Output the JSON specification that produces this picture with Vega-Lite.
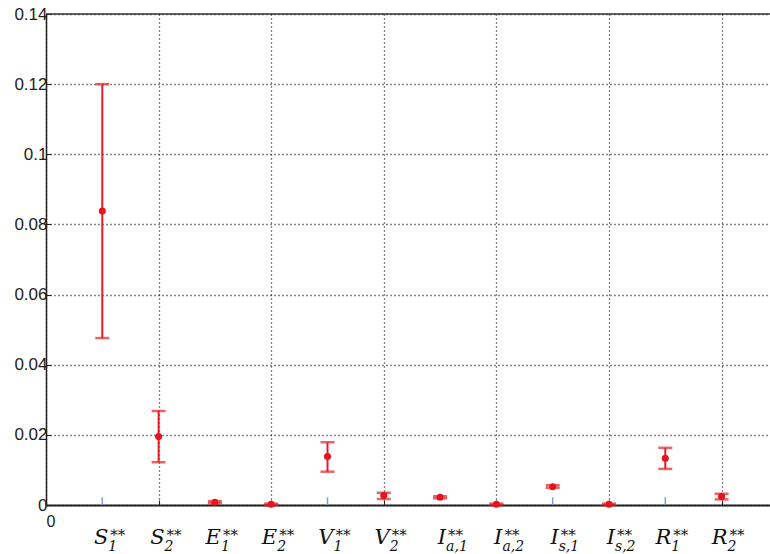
{
  "$schema": "https://vega.github.io/schema/vega-lite/v6.json",
  "autosize": "none",
  "width": 724,
  "height": 491,
  "padding": {"left": 46, "top": 14, "right": 0, "bottom": 49},
  "background": "white",
  "config": {
    "view": {"stroke": null},
    "axis": {"labelFont": "Liberation Sans", "labelFontSize": 16, "labelColor": "#222", "titleFont": "Liberation Sans"}
  },
  "datasets": {
    "bars": [
      {"pos": 1, "mid": 0.0838, "lo": 0.0476, "hi": 0.1200, "letter": "S", "sub": "1", "sup": "**"},
      {"pos": 2, "mid": 0.0195, "lo": 0.0122, "hi": 0.0268, "letter": "S", "sub": "2", "sup": "**"},
      {"pos": 3, "mid": 0.0008, "lo": 0.0005, "hi": 0.0011, "letter": "E", "sub": "1", "sup": "**"},
      {"pos": 4, "mid": 0.0002, "lo": 0.0000, "hi": 0.0004, "letter": "E", "sub": "2", "sup": "**"},
      {"pos": 5, "mid": 0.0138, "lo": 0.0095, "hi": 0.0179, "letter": "V", "sub": "1", "sup": "**"},
      {"pos": 6, "mid": 0.0027, "lo": 0.0017, "hi": 0.0035, "letter": "V", "sub": "2", "sup": "**"},
      {"pos": 7, "mid": 0.0022, "lo": 0.0019, "hi": 0.0025, "letter": "I", "sub": "a,1", "sup": "**"},
      {"pos": 8, "mid": 0.0002, "lo": 0.0000, "hi": 0.0004, "letter": "I", "sub": "a,2", "sup": "**"},
      {"pos": 9, "mid": 0.0052, "lo": 0.0049, "hi": 0.0056, "letter": "I", "sub": "s,1", "sup": "**"},
      {"pos": 10, "mid": 0.0002, "lo": 0.0000, "hi": 0.0004, "letter": "I", "sub": "s,2", "sup": "**"},
      {"pos": 11, "mid": 0.0133, "lo": 0.0103, "hi": 0.0163, "letter": "R", "sub": "1", "sup": "**"},
      {"pos": 12, "mid": 0.0024, "lo": 0.0016, "hi": 0.0032, "letter": "R", "sub": "2", "sup": "**"}
    ],
    "blueticks": [{"pos": 1}, {"pos": 5}, {"pos": 9}, {"pos": 11}],
    "one": [{}]
  },
  "data": {"name": "bars"},
  "layer": [
    {
      "mark": {"type": "rule", "color": "#e21f26", "strokeWidth": 2},
      "encoding": {
        "x": {
          "field": "pos", "type": "quantitative",
          "scale": {"domain": [0, 12.86], "nice": false, "zero": false},
          "axis": {
            "orient": "bottom", "title": null,
            "values": [0, 2, 4, 6, 8, 10, 12],
            "labelExpr": "datum.value == 0 ? '0' : ''",
            "labelFontSize": 16, "labelPadding": 13,
            "domainColor": "#222", "domainWidth": 2,
            "tickColor": "#222", "tickSize": -5,
            "grid": true, "gridColor": "#000", "gridDash": [1, 3], "gridWidth": 1.3, "gridOpacity": 0.95
          }
        },
        "y": {
          "field": "lo", "type": "quantitative",
          "scale": {"domain": [0, 0.14], "nice": false},
          "axis": {
            "title": null,
            "values": [0, 0.02, 0.04, 0.06, 0.08, 0.1, 0.12, 0.14],
            "format": "~g",
            "labelPadding": 4, "labelFontSize": 17,
            "domainColor": "#222", "domainWidth": 1.5,
            "tickColor": "#222", "tickSize": -5,
            "grid": true, "gridColor": "#000", "gridDash": [1, 3], "gridWidth": 1.3, "gridOpacity": 0.95
          }
        },
        "y2": {"field": "hi"}
      }
    },
    {
      "data": {"name": "one"},
      "mark": {"type": "rule", "color": "#333", "strokeWidth": 1.5},
      "encoding": {"y": {"datum": 0.14, "type": "quantitative"}}
    },
    {
      "data": {"name": "blueticks"},
      "mark": {"type": "rule", "color": "#7f9fd8", "strokeWidth": 1.5},
      "encoding": {
        "x": {"field": "pos", "type": "quantitative"},
        "y": {"datum": 0, "type": "quantitative"},
        "y2": {"datum": 0.0022}
      }
    },
    {
      "mark": {"type": "tick", "orient": "horizontal", "color": "#e21f26", "thickness": 2.5, "size": 14},
      "encoding": {
        "x": {"field": "pos", "type": "quantitative"},
        "y": {"field": "hi", "type": "quantitative"}
      }
    },
    {
      "mark": {"type": "tick", "orient": "horizontal", "color": "#e21f26", "thickness": 2.5, "size": 14},
      "encoding": {
        "x": {"field": "pos", "type": "quantitative"},
        "y": {"field": "lo", "type": "quantitative"}
      }
    },
    {
      "mark": {"type": "point", "filled": true, "shape": "circle", "color": "#e8141c", "size": 50, "opacity": 1},
      "encoding": {
        "x": {"field": "pos", "type": "quantitative"},
        "y": {"field": "mid", "type": "quantitative"}
      }
    },
    {
      "mark": {"type": "text", "align": "right", "baseline": "alphabetic", "dx": 6, "dy": 39, "font": "DejaVu Serif", "fontStyle": "italic", "fontSize": 21, "color": "#111"},
      "encoding": {
        "x": {"field": "pos", "type": "quantitative"},
        "y": {"datum": 0, "type": "quantitative"},
        "text": {"field": "letter"}
      }
    },
    {
      "mark": {"type": "text", "align": "left", "baseline": "alphabetic", "dx": 6, "dy": 46, "font": "DejaVu Serif", "fontStyle": "italic", "fontSize": 14, "color": "#111"},
      "encoding": {
        "x": {"field": "pos", "type": "quantitative"},
        "y": {"datum": 0, "type": "quantitative"},
        "text": {"field": "sub"}
      }
    },
    {
      "mark": {"type": "text", "align": "left", "baseline": "alphabetic", "dx": 8, "dy": 35, "font": "DejaVu Serif", "fontSize": 15, "color": "#111"},
      "encoding": {
        "x": {"field": "pos", "type": "quantitative"},
        "y": {"datum": 0, "type": "quantitative"},
        "text": {"field": "sup"}
      }
    }
  ]
}
